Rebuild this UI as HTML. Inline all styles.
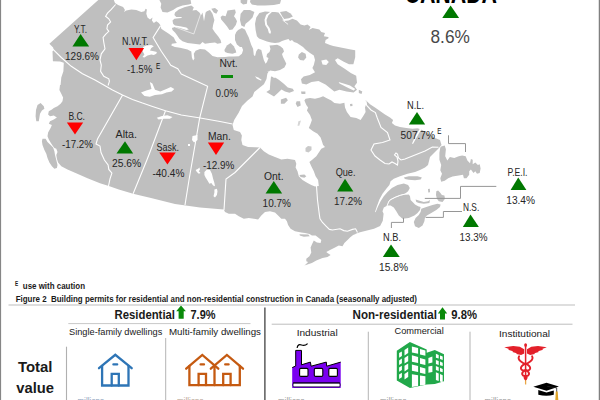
<!DOCTYPE html>
<html><head><meta charset="utf-8"><title>Building permits</title>
<style>
html,body{margin:0;padding:0;background:#fff}
body{width:600px;height:400px;overflow:hidden;position:relative;font-family:"Liberation Sans",sans-serif}
svg{position:absolute;left:0;top:0;display:block}
text{font-family:"Liberation Sans",sans-serif}
</style></head><body>
<svg width="600" height="400" viewBox="0 0 600 400">
<rect x="0" y="0" width="600" height="400" fill="#fff"/>
<g id="land">
<polygon points="99.4,-1 113.8,-1 113.8,0 115,3.1 118.1,5 123.1,6.9 125,10 123.8,11.9 126.3,10.6 131.3,9.4 136.3,10 141.3,11.9 144.4,11.3 145.6,8.8 146.9,9.4 146.3,13.8 147.5,17.5 150,19.4 152.5,17.5 151.9,20.6 153.8,23.1 156.3,21.3 158.8,23.1 160.6,25.6 161.3,28.8 163.8,30.6 168.8,33.8 173.8,37.5 175.6,41.3 176.9,43.1 171.9,43.8 171.3,45.6 175,46.9 180,47.7 187.5,49.6 191.3,51.5 191.9,57.5 193.1,60.6 194.4,58.8 193.8,53.8 195.6,50.8 200,49 205,49.6 208.8,52.5 212.5,56.1 217.5,57.3 225,56.9 229,56.4 233.8,56.5 238.8,56.3 241.9,53.8 243.1,50 241.9,46.9 240,46.9 236.9,44.4 235,40 235,35 236.3,31.9 238.1,30 241.9,28.1 245,29.4 246.9,33.8 248.8,37.5 250,41.3 251.3,45 253.1,48.8 253.8,55 255,56.3 256.3,51.3 258.1,48.8 261.3,50 262.5,55 263.8,60 265.6,63.8 267,62 268.5,58 266.5,57 267,54 269.5,52 270.5,49 269.5,45.6 273,45.2 277,44.7 280,46 283,48.5 284,51.5 282,54 283,57 285,61 286.3,63.8 284.4,67.5 280,70 275,71.3 270,70.6 267.4,73.6 266.5,78.9 263.9,84.2 259.5,87.7 254.3,92 252.5,96.4 247.3,100.8 242,106 238.5,113 234.2,120 232.5,125 233.8,130 240,131.9 241.9,135.6 241.3,140 242.5,145 248.1,146.9 255,147.3 260,147.5 263.8,151.3 268.8,154.4 275,156.9 281.3,159.4 287.5,158.8 295,160 296.3,163.8 295.6,167.5 297.5,171.3 298.8,176.3 302.5,180 307.5,183.1 311.3,185 315,186.6 318.8,186 318.1,180 315.6,176.3 313.8,171.3 311.3,166.3 309.4,161.9 312.5,159.4 316.3,156.3 318.8,152.5 321.3,148.8 325,146.9 323.1,145 321.9,141.3 320.6,137.5 317.5,133.8 313.1,131.3 308.8,128.1 310.6,123.8 311.9,120 310,115 306.9,110.6 308.1,107.5 306.3,105 304.4,100.6 305.6,98.8 310,98.1 315,98.8 320,97.5 323.1,96.3 326.3,98.1 331.3,100.6 334.4,103.1 340,103.8 344.4,102.8 345,107.5 346.9,111.9 350.6,116.9 356.3,118.1 360.6,120 363.1,116.3 365.6,111.9 365,107.5 366.3,103.8 365.6,100 370,104.2 375,107.5 380,111.1 385,114.4 390,117.6 393.1,120 391.9,123.1 395,125.6 400,126.9 406.3,128.1 412.5,128.8 417.5,128.3 421.3,129.4 428,133.5 435,138 440,140 441.5,145 438,149 434,153 430,157 429,161 428,165 425,167.5 420,170 415,171.9 407.5,173.8 400,176.3 393.8,178.8 390.6,181.3 389.4,185 386.3,188.8 382.5,193.8 379.4,199.4 376.9,206.3 375,211.9 375.6,212.2 378.1,206.3 380.6,201.3 383.8,196.3 387.5,191.9 391.9,188.1 397.5,185 403.8,183.5 408.1,185 409.8,188.1 408.1,191.3 405,193.8 400,195 395,196.9 390,199.4 388.1,201.9 387.5,205.6 383.8,207.5 382.5,211.3 383.6,213.8 382.8,220.8 380.1,226 374,228.7 367,230.4 360,232.2 355,234 356.3,233.8 353.1,235 350,237.5 347.5,240 344.4,243.1 342.5,246.3 338.8,245.6 335,247.5 330,250 326.3,251.9 327.5,253.1 330.6,255 327.5,256.9 322.5,258.1 316.3,260.6 311.9,263.1 304.4,265.5 305.6,264.4 308.1,261.9 306.3,261.3 306.3,258.8 309.4,256.3 311.3,252.5 310.6,247.5 311.9,244.4 313.8,240.6 316.9,242.5 320.6,243.1 321.3,240 318.8,238.1 315.6,235.6 311.9,235.6 309.5,234 305,232.9 301.3,232.5 295,231.3 290.6,228.8 288.1,225 286.9,221.3 285,218.8 281.3,218.8 278.1,215.6 275,212.5 270,211.3 265,211.9 261.3,215.6 258.1,219.4 253.8,218.8 248.8,218.1 243.8,218.8 238.8,216.3 235,213.8 228.8,213.8 225,211.9 223.8,209.4 200,207.5 175,204 150,197.8 142.5,196 133.1,193.8 118.8,189.6 108.8,185.9 100,183.3 87.5,178.3 75,172.7 67.5,169.5 61.3,166.3 58.1,162.5 56.9,158.8 56.3,155 57.5,151.9 56.3,148.8 54.4,148.1 52.5,145.6 50.6,142.5 48.8,139.4 47.5,136.3 48.1,132.5 48.8,131.3 50.6,128.1 51.9,125 48.8,123.8 50,121.3 53.8,119.4 56.9,117.5 53.8,115.6 50,116.3 48.1,114.4 48.8,111.3 51.9,109.4 53.8,108.1 57.5,106.3 60.6,103.8 62.5,101.3 63.1,97.5 61.3,93.8 59.4,90 60,85 60.6,85 61.3,77.5 63.4,71.3 63.8,62.8 60,61.5 52.9,61.3 52.5,51.3 53.8,50 53.1,47.5 49.4,43.8" fill="#bfbfbf" />
<polygon points="159.4,-1 159.4,0 161.3,3.75 160.6,7.5 162.5,11.9 167.5,12.5 173.1,10 176.9,7.5 182.5,5.6 188.8,4.4 191.3,3.75 190.6,0 190.6,-1" fill="#bfbfbf" />
<polygon points="175,12.5 178.8,9.4 185,6.9 191.3,5.6 193.8,7.5 192.5,10.6 196.3,10 199.4,12.5 201.3,15 202.5,12.5 204,21.3 205.6,12.5 206.9,11.3 210,10 212.5,13.8 214.4,20 213.1,25 212.5,28.8 215,32.5 218.1,36.3 220.6,40 221.3,43.1 217.5,43.8 215,42.5 210,43.1 205,43.8 202.5,41.9 200,44.4 193.8,43.8 187.5,43.1 182.5,41.3 179.4,38.8 176.9,35 175,32.5 172.5,30 171.9,28.1 175,26.9 180,28.1 186.3,30 188.8,29.4 186.3,27.5 180,26.3 175,25.6 173.1,23.8 172.5,20.6 174.4,18.8 181.3,18.1 181.9,16.9 176.3,16.9 174.4,15" fill="#bfbfbf" />
<polygon points="211.3,8.8 215,8.1 218.1,10.6 216.3,13.8 213.8,12.5" fill="#bfbfbf" />
<polygon points="240.6,-1 247.5,-1 246.9,3.8 243.1,4.4 240.6,2.5" fill="#bfbfbf" />
<polygon points="250.6,-1 281.3,-1 280,3.8 273.8,5 265,5.6 257.5,5.6 251.9,4.4 250,1.9" fill="#bfbfbf" />
<polygon points="220.6,16.9 222.5,15.6 225.6,16.2 226.9,12.5 227.5,10.6 231.2,10.0 235.0,9.4 235.8,12.5 234.0,16.2 235.8,18.8 237.0,21.2 235.8,25.0 232.5,29.4 229.4,30.0 226.9,26.2 223.8,22.5 221.2,19.4" fill="#bfbfbf" />
<polygon points="240.6,13.8 243.8,10 250,10 254.4,11.9 252.5,17.5 248.8,21.3 245.6,23.8 244.4,26.9 241.3,25.6 240,20" fill="#bfbfbf" />
<polygon points="224.4,50 226.9,45.6 230.6,43.1 233.8,46.3 235.6,50 236.3,52.5 232.5,53.8 227.5,53.1 225,51.9" fill="#bfbfbf" />
<polygon points="271.3,11.9 265,11.5 259.4,13.1 256.3,17.5 255,23.8 255.6,30 256.9,36.3 259,38.5 263,40 267,41.5 271,42.5 275,43 279,42.5 282,41 285,40 288.5,39 290,41 292,40 294,42 297,43 300,45 303,47 306,50 310,53 313.8,55.6 315,60 313.8,65 312.4,67.9 315,72.3 309.8,74.9 303.6,76.6 301,79.3 301.9,83.6 306.3,84.5 311.5,81.9 318.5,81 325.5,84.5 329.9,88 334.3,91.5 339.5,89.8 346.5,91.5 353.6,92.4 357,89.8 354.4,86.3 357,82.8 356.2,75.8 350.8,73 344.7,68.7 337.7,64.3 335,59.9 337.7,58.2 343.8,61.7 349,64.3 353.4,64.3 355.2,57.3 355.2,50.3 350.8,49.4 342,47.7 333.3,45.9 330,45 325,43.1 325.6,40 328.8,38.1 328.1,36.9 323.8,36.3 325,33.1 321.3,31.9 319.4,29.4 312.5,28.1 308.8,30 310.6,26.9 307.5,24.4 304.4,25.6 300.6,24.4 296.9,20.5 292.5,18.8 288.5,20.5 284,21 281.8,17 278.5,12.5 275,11.9" fill="#bfbfbf" />
<polygon points="280.0,11.9 286.2,11.0 290.6,13.5 292.9,16.6 289.0,18.2 284.2,18.9 282.2,16.2" fill="#bfbfbf" />
<polygon points="298.8,54.4 301.9,51.9 305.6,53.8 306.3,57.5 303.8,60.6 300,60 298.1,57.5" fill="#bfbfbf" />
<polygon points="266.3,91.9 269.8,89.8 270.3,82.5 271,76.5 274.8,77.3 278.8,79.8 283.8,83.8 287.8,87.5 292.8,88.8 294,91 289.4,92.8 285,91.5 281.5,89.5 278.1,92.8 274,96.5 270.6,94.4" fill="#bfbfbf" />
<polygon points="280.9,99.4 286.1,97.7 287.9,100.3 284.4,103.8 280.9,103.8" fill="#bfbfbf" />
<polygon points="296.6,101.2 300.1,101.2 300.7,105.5 297.5,106.9 295.8,103.8" fill="#bfbfbf" />
<polygon points="301,91.5 305.4,91.5 305.4,94 301.5,94" fill="#bfbfbf" />
<polygon points="298.4,121.3 301,120.4 299.3,125.7 297.5,125.7" fill="#d6d6d6" />
<polygon points="358.8,89.8 362.3,91.5 361.5,94 358.8,93" fill="#bfbfbf" />
<polygon points="350,104 352.3,103.8 352.5,106 350.3,106.3" fill="#bfbfbf" />
<polygon points="299.4,175 304.4,174.6 306.3,176.3 304.4,177.7 300.6,177" fill="#bfbfbf" />
<polygon points="305.5,148 308,146 311.5,146.5 311.5,150 308.5,152.5 305.5,151.5" fill="#c9c9c9" />
<polygon points="299.5,234.2 308.3,234.6 309.8,236.2 303.8,236.7 299.8,235.6" fill="#bfbfbf" />
<polygon points="37.5,105 40.6,103.1 43.8,106.3 44.4,108.8 41.9,110.6 40,113.8 39.4,117.5 38.8,121.3 36.3,121.3 35.6,116.3 36,110" fill="#bfbfbf" />
<polygon points="42.5,138.8 45.6,138.8 47.5,141.9 50.6,145 53.1,147.5 54.4,151.3 55,155 56.3,160 57.5,165 56.9,168.1 54.4,168.8 51.9,166.3 49.4,162.5 47.5,158.1 46.3,153.8 44.4,150 42.5,145 41.9,141.3" fill="#bfbfbf" />
<polygon points="387.5,205.6 388.8,201.9 390.6,200 395.6,197.5 400.6,195.6 405,194.4 408.8,194.4 410,196.3 410.6,200 413.1,202.5 415,204.4 418.1,206.3 420.6,206.9 420,210 417.5,213.1 414.4,215.6 408.8,218.1 402.5,218.8 398.8,215.6 396.3,211.3 393.8,207.5 390.6,205.6" fill="#bfbfbf" />
<polygon points="421.3,208.8 426.3,206.9 432.5,205 437.5,203.8 440.6,204.4 440,206.9 436.3,210 431.3,213.1 426.9,215.6 425,217.5 424.4,221.3 422.5,225.6 418.8,228.1 415,226.3 413.8,221.9 415.6,218.1 418.8,215 420.6,211.9" fill="#bfbfbf" />
<polygon points="436.3,191.3 438.1,190.6 440,192.5 441.9,195 444.4,195.6 445,198.8 442.5,201.9 438.8,201.3 436.9,198.8 436,195" fill="#bfbfbf" />
<polygon points="415.6,199.4 418.8,200.6 423.8,201.9 428.1,201.3 430,200 429.4,203.1 423.8,203.8 418.8,203.1 416.3,201.9" fill="#bfbfbf" />
<polygon points="403.8,177.5 408.8,176.3 417.5,176.3 421.9,177.5 420.6,179.4 415,180.3 408.8,179.8 405,179" fill="#bfbfbf" />
<polygon points="428,189 429.8,188.8 430,192.3 428.3,192.5" fill="#bfbfbf" />
<polygon points="441.2,146.6 444.7,145.4 445.9,149.3 445.2,156.3 447.3,160.6 449.9,157.1 454.3,158 458.7,156.3 462.2,155.4 465.7,156.3 467.4,160.6 470,163.3 470.9,158.9 472.7,159.8 472.7,164.2 475.3,162.4 477.9,165 479.7,164.2 480.6,168.5 479.7,172.9 477,173.8 475.3,171.2 473.5,172.9 470.9,169.4 469.2,171.2 469.2,174.7 466.5,178.2 463.9,178.2 463,174.7 458.7,175.5 452.5,176.4 448.2,178.2 444.7,180.8 441.2,181.7 440.3,178.2 442,173.8 440.3,170.3 441.2,165 439.4,159.8 439.4,152.8 440.3,147.5" fill="#bfbfbf" />
</g><g id="water">
<polygon points="338.7,81.9 350,85.4 355.3,88.9 353.6,90.6 348.3,88 339.5,83.6" fill="#fff" />
<polygon points="271.9,11.9 268.5,15.2 266.5,20.0 267.1,24.4 269.6,28.1 271.0,31.9 270.2,34.0 268.8,32.8 267.8,29.0 265.2,25.0 264.5,19.8 266.2,14.8 270.0,11.9" fill="#fff" />
<polygon points="321.3,60.6 326.3,59.4 328.8,61.9 326.3,65 322.5,64.4" fill="#fff" />
<polygon points="143.1,46.9 146.3,45.6 151.3,45 153.8,46.3 151.3,48.1 150,50.6 153.8,51.3 156.9,51.9 156.3,53.8 153.8,55 151.3,54.4 147.5,55.6 144.4,57.5 142.5,56.9 144.4,54.4 142.5,51" fill="#fff" />
<polygon points="141,92.4 146.3,90.6 151.5,88.9 149.8,81.9 152.4,83.6 155,89.8 160.3,91.5 166.4,88.9 170.8,87.1 174.3,88.9 171.7,91.5 166.4,92.4 162,94.2 155,95 149.8,96.8 144.5,95.9" fill="#fff" />
<polygon points="156.8,117.8 162,116 167.3,115.2 172.5,116.9 169.9,118.7 163.8,118.7 158.5,119.5" fill="#fff" />
<polygon points="192.5,136 197.5,135 197.5,140 194,142.5 192,140" fill="#fff" />
<polygon points="188,144 190,144 190,146 188,146" fill="#fff" />
<polygon points="195.6,170 198.1,168.8 199.4,167.5 200,169.4 198.8,171.3 200.6,173.1 198.8,173.8 196.9,171.9" fill="#fff" />
<polygon points="204.4,171.9 206.9,169.4 210,170 211.9,173.8 213.1,178.8 214.4,183.1 215,186.3 213.1,185.6 211.3,183.1 209.4,183.8 207.5,180.6 205.6,177.5 204.4,175" fill="#fff" />
<polygon points="214.4,189.4 216.9,188.8 217.5,191.3 216.9,195 215,197.5 213.5,196.3 214.4,192.5" fill="#fff" />
<polygon points="255,76.3 258.1,77.5 261.9,80 260.6,80.6 256.9,78.8" fill="#fff" />
<polygon points="267.5,71.3 270.6,71.9 273.8,73.8 277.5,75 280,75.6 278.8,77.5 276.3,76.9 273.8,78.1 272.5,76.3 270,75 268.8,80 266.9,85 266,84 268,76 268.8,73.1" fill="#fff" />
<polygon points="421.8,129 419,133.2 415.2,140 413,144 412,143.5 413.8,139.5 417.2,133 420,128.6" fill="#fff" />
</g><g id="borders">
<polyline points="282.5,20.0 288.1,24.4" fill="none" stroke="#fff" stroke-width="0.8" stroke-linejoin="miter" />
<polyline points="53.1,49.4 61.3,57.5 71.3,66.3 82.5,73.8 95,80 103.8,85 112.5,90 122.5,95 132.5,99.4 142.5,103.1 152.5,106.5 165.5,110.8 181.3,115 198.8,117.8 220,121.5 232.5,124" fill="none" stroke="#fff" stroke-width="1.1" stroke-linejoin="miter" />
<polyline points="115.6,4.5 111.3,9.4 107.5,13.1 105.6,16.3 108.8,18.8 110.6,21.9 107.5,25 106.9,28.8 108.8,31.3 105.6,34.4 103.1,37.5 103.8,42.5 105,48.8 101.3,53.8 100,60 101.3,65 100.6,71.3 103.8,76.3 108.8,78.8 109.4,81.3 108.1,85.5" fill="none" stroke="#fff" stroke-width="1.1" stroke-linejoin="miter" />
<polyline points="160.6,25.6 153.1,37.5 161.3,51.3 167.3,60 170.8,65.3 177.8,68.8 181.3,74 207.6,86.3 199.7,117.8" fill="none" stroke="#fff" stroke-width="1.1" stroke-linejoin="miter" />
<polyline points="201.3,12 193.8,34 175,27" fill="none" stroke="#fff" stroke-width="0.6" stroke-linejoin="miter" />
<polyline points="122.6,95 97.5,139 96,144 100,146 101,152.5 104.4,160 108.1,165 108.8,169.4 111.9,173.1 110,178.8 108.5,186" fill="none" stroke="#fff" stroke-width="1.1" stroke-linejoin="miter" />
<polyline points="165.5,110.8 150,152 146.9,160 133.1,193.8" fill="none" stroke="#fff" stroke-width="1.1" stroke-linejoin="miter" />
<polyline points="199.7,117.8 189,180 185,205" fill="none" stroke="#fff" stroke-width="1.1" stroke-linejoin="miter" />
<polyline points="260,147.5 255,152.5 235,172.5 226,179 224,210" fill="none" stroke="#fff" stroke-width="1.1" stroke-linejoin="miter" />
<polyline points="316.5,186 317.5,200 319.4,215 320,218.8 322.5,222.5 326.3,226.3 329.4,229.4 332.5,230 340,228.8 343.8,230.6 347.5,231.3 352.5,229.4 355.6,228.8 357.5,232.5" fill="none" stroke="#fff" stroke-width="1.1" stroke-linejoin="miter" />
<polyline points="365.8,100.3 366.7,105.5 371,110 375.4,112.5 377.2,117.8 381,127.5 387.5,132.5 390,140 382.5,142.5 374,144 371,150 375,156 380,160 385,163.5 389,164 392,162 395,163.5 397.5,165 398,161 397,157 394.5,155 396,153 397.5,154 398.5,158 401,160 405,159 410,157 415,155 420,153 425,151 432.4,147 438.5,147.3" fill="none" stroke="#fff" stroke-width="1.1" stroke-linejoin="miter" />
<polyline points="387,206 388.5,202 390.3,199.8 395.3,197.2 400.3,195.3 405,194.1 409,193.6" fill="none" stroke="#fff" stroke-width="0.9" stroke-linejoin="miter" />
<polyline points="448.5,135.3 448.5,143.6 465.5,143.6 465.5,152" fill="none" stroke="#969696" stroke-width="1" stroke-linejoin="miter" />
<polyline points="496.3,186.4 460.5,186.4 460.5,198.4 424.8,198.4" fill="none" stroke="#969696" stroke-width="1" stroke-linejoin="miter" />
<polyline points="462,211.5 443.4,211.5 443.4,217.4 425.6,217.4" fill="none" stroke="#969696" stroke-width="1" stroke-linejoin="miter" />
<polyline points="391.4,228 391.4,222.4 403.5,222.4 403.5,217.8" fill="none" stroke="#969696" stroke-width="1" stroke-linejoin="miter" />
</g>
<g id="labels">
<text x="73.9" y="33.0" font-size="10.4" font-weight="normal" fill="#262626" textLength="13.1" lengthAdjust="spacingAndGlyphs">Y.T.</text>
<polygon points="80.6,33.95 89.15,46.4 72.45,46.4" fill="#007800"/>
<text x="65" y="59.8" font-size="10.7" font-weight="normal" fill="#262626" textLength="34" lengthAdjust="spacingAndGlyphs">129.6%</text>
<text x="122" y="45.3" font-size="10.4" font-weight="normal" fill="#262626" textLength="26.6" lengthAdjust="spacingAndGlyphs">N.W.T.</text>
<polygon points="128.45,48 144.15,48 136.4,60.15" fill="#ff0000"/>
<text x="127" y="72.7" font-size="10.7" font-weight="normal" fill="#262626" textLength="25.4" lengthAdjust="spacingAndGlyphs">-1.5%</text>
<text x="155.9" y="69" font-size="9.4" font-weight="normal" fill="#111" textLength="4.3" lengthAdjust="spacingAndGlyphs">E</text>
<text x="68.4" y="119.5" font-size="10.4" font-weight="normal" fill="#262626" textLength="16.6" lengthAdjust="spacingAndGlyphs">B.C.</text>
<polygon points="66.85,122.4 83.15,122.4 75,134.55" fill="#ff0000"/>
<text x="62" y="147.9" font-size="10.7" font-weight="normal" fill="#262626" textLength="31" lengthAdjust="spacingAndGlyphs">-17.2%</text>
<text x="115.6" y="138.3" font-size="10.4" font-weight="normal" fill="#262626" textLength="21.4" lengthAdjust="spacingAndGlyphs">Alta.</text>
<polygon points="125,141.15 133.15,153.6 116.45,153.6" fill="#007800"/>
<text x="112" y="166.7" font-size="10.7" font-weight="normal" fill="#262626" textLength="29.2" lengthAdjust="spacingAndGlyphs">25.6%</text>
<text x="156.6" y="150.5" font-size="10.4" font-weight="normal" fill="#262626" textLength="22.4" lengthAdjust="spacingAndGlyphs">Sask.</text>
<polygon points="159.25,152.4 175.75,152.4 167.4,164.55" fill="#ff0000"/>
<text x="152.4" y="177.3" font-size="10.7" font-weight="normal" fill="#262626" textLength="32.0" lengthAdjust="spacingAndGlyphs">-40.4%</text>
<text x="208" y="139.7" font-size="10.4" font-weight="normal" fill="#262626" textLength="23" lengthAdjust="spacingAndGlyphs">Man.</text>
<polygon points="207.85,142.4 224.15,142.4 216,154.95" fill="#ff0000"/>
<text x="203" y="169.1" font-size="10.7" font-weight="normal" fill="#262626" textLength="31.4" lengthAdjust="spacingAndGlyphs">-12.9%</text>
<text x="219.4" y="66.5" font-size="10.4" font-weight="normal" fill="#262626" textLength="18.2" lengthAdjust="spacingAndGlyphs">Nvt.</text>
<rect x="221" y="75" width="12" height="3" fill="#0a8a0a"/>
<text x="215.6" y="97.1" font-size="10.7" font-weight="normal" fill="#262626" textLength="22.4" lengthAdjust="spacingAndGlyphs">0.0%</text>
<text x="264" y="179.9" font-size="10.4" font-weight="normal" fill="#262626" textLength="19.6" lengthAdjust="spacingAndGlyphs">Ont.</text>
<polygon points="273.8,181.05 282.15,193.6 265.55,193.6" fill="#007800"/>
<text x="262.6" y="207.2" font-size="10.7" font-weight="normal" fill="#262626" textLength="28.3" lengthAdjust="spacingAndGlyphs">10.7%</text>
<text x="335.7" y="175.7" font-size="10.4" font-weight="normal" fill="#262626" textLength="19.8" lengthAdjust="spacingAndGlyphs">Que.</text>
<polygon points="345,178.75 353.35,191.5 337.15,191.5" fill="#007800"/>
<text x="334" y="204.7" font-size="10.7" font-weight="normal" fill="#262626" textLength="28" lengthAdjust="spacingAndGlyphs">17.2%</text>
<text x="407" y="109.3" font-size="10.4" font-weight="normal" fill="#262626" textLength="17" lengthAdjust="spacingAndGlyphs">N.L.</text>
<polygon points="417,111.95 425.15,124.4 408.85,124.4" fill="#007800"/>
<text x="400.6" y="139.1" font-size="10.7" font-weight="normal" fill="#262626" textLength="34.4" lengthAdjust="spacingAndGlyphs">507.7%</text>
<text x="437.3" y="133.8" font-size="9.4" font-weight="normal" fill="#111" textLength="4.2" lengthAdjust="spacingAndGlyphs">E</text>
<text x="507.5" y="175.7" font-size="10.4" font-weight="normal" fill="#262626" textLength="20.0" lengthAdjust="spacingAndGlyphs">P.E.I.</text>
<polygon points="518.25,177.55 526.4,190 510.6,190" fill="#007800"/>
<text x="506.25" y="203.7" font-size="10.7" font-weight="normal" fill="#262626" textLength="28.8" lengthAdjust="spacingAndGlyphs">13.4%</text>
<text x="463" y="211.45" font-size="10.4" font-weight="normal" fill="#262626" textLength="16.2" lengthAdjust="spacingAndGlyphs">N.S.</text>
<polygon points="470.5,214.55 478.9,227 462.85,227" fill="#007800"/>
<text x="459.5" y="240.7" font-size="10.7" font-weight="normal" fill="#262626" textLength="28.0" lengthAdjust="spacingAndGlyphs">13.3%</text>
<text x="383" y="241.3" font-size="10.4" font-weight="normal" fill="#262626" textLength="18" lengthAdjust="spacingAndGlyphs">N.B.</text>
<polygon points="391,244.55 399.75,257 382.85,257" fill="#007800"/>
<text x="379" y="270.7" font-size="10.7" font-weight="normal" fill="#262626" textLength="29" lengthAdjust="spacingAndGlyphs">15.8%</text>
<text x="404.5" y="3.2" font-size="30" font-weight="bold" fill="#000" textLength="92.5" lengthAdjust="spacingAndGlyphs">CANADA</text>
<polygon points="450.6,5.55 459.15,18 442.25,18" fill="#007800"/>
<text x="430.5" y="42.8" font-size="17.5" font-weight="normal" fill="#484848" textLength="39.3" lengthAdjust="spacingAndGlyphs">8.6%</text>
</g>
<g id="bottom">
<rect x="0" y="0" width="1.1" height="400" fill="#868686"/>
<rect x="598.75" y="0" width="1.25" height="400" fill="#808080"/>
<text x="15" y="286.2" font-size="7.2" font-weight="bold" fill="#1a1a1a" textLength="3.2" lengthAdjust="spacingAndGlyphs" >E</text>
<text x="22.8" y="288.6" font-size="9.3" font-weight="bold" fill="#1a1a1a" textLength="62.2" lengthAdjust="spacingAndGlyphs" >use with caution</text>
<text x="15.7" y="302.2" font-size="9.3" font-weight="bold" fill="#1a1a1a" textLength="401.3" lengthAdjust="spacingAndGlyphs" xml:space="preserve">Figure 2&#160; Building permits for residential and non-residential construction in Canada (seasonally adjusted)</text>
<line x1="8.5" y1="305" x2="575" y2="305" stroke="#bdbdbd" stroke-width="1"/>
<text x="114.5" y="319.4" font-size="12" font-weight="bold" fill="#1a1a1a" textLength="60.5" lengthAdjust="spacingAndGlyphs" >Residential</text>
<polygon points="181,305.5 185.9,311.3 183.7,311.3 183.7,318.7 178.6,318.7 178.6,311.3 176.2,311.3" fill="#0a8a0a"/>
<text x="190.5" y="319.4" font-size="12" font-weight="bold" fill="#1a1a1a" textLength="25.0" lengthAdjust="spacingAndGlyphs" >7.9%</text>
<line x1="68.3" y1="323.6" x2="250.5" y2="323.6" stroke="#c8c8c8" stroke-width="1"/>
<text x="352.5" y="319.4" font-size="12" font-weight="bold" fill="#1a1a1a" textLength="84.5" lengthAdjust="spacingAndGlyphs" >Non-residential</text>
<polygon points="442.5,307.3 447.2,313.6 445,313.6 445,319.5 440,319.5 440,313.6 437.8,313.6" fill="#0a8a0a"/>
<text x="451.3" y="319.4" font-size="12" font-weight="bold" fill="#1a1a1a" textLength="25.7" lengthAdjust="spacingAndGlyphs" >9.8%</text>
<line x1="271.7" y1="324.2" x2="572.5" y2="324.2" stroke="#bdbdbd" stroke-width="1"/>
<text x="69" y="335" font-size="9" font-weight="normal" fill="#1a1a1a" textLength="93.3" lengthAdjust="spacingAndGlyphs" >Single-family dwellings</text>
<text x="169" y="335" font-size="9" font-weight="normal" fill="#1a1a1a" textLength="92" lengthAdjust="spacingAndGlyphs" >Multi-family dwellings</text>
<text x="296.7" y="336" font-size="9" font-weight="normal" fill="#1a1a1a" textLength="41.0" lengthAdjust="spacingAndGlyphs" >Industrial</text>
<text x="394.5" y="334.4" font-size="9.3" font-weight="normal" fill="#1a1a1a" textLength="49.3" lengthAdjust="spacingAndGlyphs" >Commercial</text>
<text x="499" y="336.5" font-size="9" font-weight="normal" fill="#1a1a1a" textLength="51" lengthAdjust="spacingAndGlyphs" >Institutional</text>
<line x1="66.5" y1="346.7" x2="66.5" y2="400" stroke="#b0b0b0" stroke-width="1.1"/>
<line x1="165.7" y1="338" x2="165.7" y2="400" stroke="#b4b4b4" stroke-width="1"/>
<line x1="264.9" y1="307.5" x2="264.9" y2="400" stroke="#404040" stroke-width="1.3"/>
<line x1="368.3" y1="331.7" x2="368.3" y2="400" stroke="#b4b4b4" stroke-width="1"/>
<line x1="470" y1="331.7" x2="470" y2="400" stroke="#b4b4b4" stroke-width="1"/>
<text x="18" y="372.2" font-size="15.2" font-weight="bold" fill="#1a1a1a" textLength="34.5" lengthAdjust="spacingAndGlyphs" >Total</text>
<text x="16.2" y="393.2" font-size="15.2" font-weight="bold" fill="#1a1a1a" textLength="37.8" lengthAdjust="spacingAndGlyphs" >value</text>
<g fill="none" stroke="#2e75b6" stroke-width="2.3" stroke-linecap="round" stroke-linejoin="miter"><polyline points="99,368.2 115.3,354.8 131.7,368.2"/><polyline points="102.1,366 102.1,385.5 128.5,385.5 128.5,366"/><polyline points="111.7,385.5 111.7,373.9 118.8,373.9 118.8,385.5"/><line x1="113.4" y1="364.4" x2="117.2" y2="364.4"/></g>
<g fill="none" stroke="#c55a11" stroke-width="2.3" stroke-linecap="round" stroke-linejoin="miter"><polyline points="186.2,368.7 202.3,354.9 218.3,368.7"/><polyline points="210.8,368.7 226.9,354.9 243,368.7"/><polyline points="189.4,366 189.4,385.2 239.8,385.2 239.8,366"/><line x1="214.5" y1="365.5" x2="214.5" y2="385.2"/><polyline points="198.6,385.2 198.6,373.9 206,373.9 206,385.2"/><polyline points="223.2,385.2 223.2,373.9 230.6,373.9 230.6,385.2"/><line x1="200.6" y1="364.4" x2="204" y2="364.4"/><line x1="225.2" y1="364.4" x2="228.6" y2="364.4"/></g>
<polygon points="292.2,382.9 292.2,367.6 295.7,366 295.7,350.4 301.5,350.4 301.5,364.8 310.4,362.1 311.1,366.2 326.3,362.1 326.7,366.2 340.7,362.1 340.7,388 292.2,388" fill="#7a00f0"/>
<polyline points="292.2,367.6 295.7,366 295.7,350.4 301.5,350.4 301.5,364.8 310.4,362.1 311.1,366.2 326.3,362.1 326.7,366.2 340.7,362.1" fill="none" stroke="#000" stroke-width="1.0"/>
<rect x="299.6" y="368.4" width="8.4" height="8" rx="1.2" fill="#fff" stroke="#000" stroke-width="1.1"/>
<rect x="314.3" y="368.4" width="8.5" height="8" rx="1.2" fill="#fff" stroke="#000" stroke-width="1.1"/>
<rect x="328.8" y="368.4" width="8.6" height="8" rx="1.2" fill="#fff" stroke="#000" stroke-width="1.1"/>
<rect x="293" y="383" width="47" height="3.9" rx="1" fill="#fff" stroke="#1a0040" stroke-width="0.9"/>
<line x1="293" y1="382.9" x2="340" y2="382.9" stroke="#000" stroke-width="0.9"/>
<path d="M297.1,347.8 C297.8,344.6 299.5,344.2 301.5,345 S305.5,345.6 307.6,343.6" fill="none" stroke="#000" stroke-width="1.3"/>
<polygon points="396.8,350.8 409.9,342.0 426.7,349.5 426.7,352.8 434.8,350.1 444.0,354.2 444.0,381.2 434.8,383.9 426.7,384.6 409.9,387.9 396.8,380.5" fill="#21a84a"/>
<polygon points="399.1,353.1 401.9,351.4 401.9,355.9 399.1,357.7" fill="#fff"/>
<polygon points="399.1,360.4 401.9,358.6 401.9,363.2 399.1,365.0" fill="#fff"/>
<polygon points="399.1,367.4 401.9,365.7 401.9,370.0 399.1,371.7" fill="#fff"/>
<polygon points="399.1,374.4 401.9,372.7 401.9,377.3 399.1,379.0" fill="#fff"/>
<polygon points="404.5,349.9 408.2,347.4 408.2,353.1 404.5,355.5" fill="#fff"/>
<polygon points="404.5,358.0 408.2,355.5 408.2,361.2 404.5,363.6" fill="#fff"/>
<polygon points="404.5,365.8 408.2,363.4 408.2,369.0 404.5,371.5" fill="#fff"/>
<polygon points="404.5,373.9 408.2,371.5 408.2,377.1 404.5,379.6" fill="#fff"/>
<polygon points="411.9,346.4 418.1,348.0 418.1,353.8 411.9,352.6" fill="#fff"/>
<polygon points="420.0,349.1 425.4,350.6 425.4,355.8 420.0,354.6" fill="#fff"/>
<polygon points="411.9,355.3 418.1,356.9 418.1,363.0 411.9,361.8" fill="#fff"/>
<polygon points="420.0,358.0 425.4,359.5 425.4,365.0 420.0,363.8" fill="#fff"/>
<polygon points="411.9,364.5 418.1,366.1 418.1,371.9 411.9,370.7" fill="#fff"/>
<polygon points="420.0,367.1 425.4,368.6 425.4,373.9 420.0,372.7" fill="#fff"/>
<polygon points="411.9,374.2 418.1,375.2 418.1,386.0 411.9,387.1" fill="#fff"/>
<polygon points="420.0,375.5 425.4,376.3 425.4,384.7 420.0,385.5" fill="#fff"/>
<polygon points="428.4,358.0 432.4,356.6 432.4,362.6 428.4,363.6" fill="#fff"/>
<polygon points="428.4,366.6 432.4,365.7 432.4,372.0 428.4,372.8" fill="#fff"/>
<polygon points="435.9,353.7 438.7,354.9 438.7,358.6 435.9,357.7" fill="#fff"/>
<polygon points="440.0,355.4 442.7,356.6 442.7,359.9 440.0,359.1" fill="#fff"/>
<polygon points="435.9,359.9 438.7,361.1 438.7,364.9 435.9,363.9" fill="#fff"/>
<polygon points="440.0,361.6 442.7,362.8 442.7,366.1 440.0,365.3" fill="#fff"/>
<polygon points="435.9,366.1 438.7,367.3 438.7,371.1 435.9,370.1" fill="#fff"/>
<polygon points="440.0,367.8 442.7,369.0 442.7,372.3 440.0,371.5" fill="#fff"/>
<polygon points="435.9,372.3 438.7,373.5 438.7,381.0 435.9,380.1" fill="#fff"/>
<polygon points="440.0,374.0 442.7,375.2 442.7,382.3 440.0,381.5" fill="#fff"/>
<polygon points="524.2,349.2 519.8,346.7 513.2,346.1 504.3,347.3 509.0,349.0 508.1,349.8 513.0,351.2 512.4,352.1 516.7,353.2 516.3,354.0 521.1,354.9 524.2,353.5" fill="#e3202a"/>
<polygon points="527.0,349.2 531.3,346.7 538.0,346.1 546.8,347.3 542.2,349.0 543.1,349.8 538.1,351.2 538.8,352.1 534.4,353.2 534.9,354.0 530.1,354.9 527.0,353.5" fill="#e3202a"/>
<ellipse cx="525.6" cy="345.1" rx="1.4" ry="1.9" fill="#e3202a"/>
<line x1="525.6" y1="344.2" x2="525.6" y2="379.6" stroke="#e3202a" stroke-width="1.5"/>
<line x1="525.6" y1="379.1" x2="525.6" y2="384.5" stroke="#e8a848" stroke-width="1.3"/>
<path d="M532.1,356.3 Q533.6,358.9 530.2,361.6 T525.6,363.6 Q520.6,365.9 520.9,368.4 T525.6,370.2 Q529.6,372.1 529.0,374.3 T525.6,375.8 Q523.4,377.4 525.6,379.2" fill="none" stroke="#e3202a" stroke-width="1.9" stroke-linecap="round"/>
<path d="M519.1,356.3 Q517.5,358.9 520.9,361.6 T525.6,363.6 Q530.5,365.9 530.2,368.4 T525.6,370.2 Q521.6,372.1 522.2,374.3 T525.6,375.8 Q527.8,377.4 525.6,379.2" fill="none" stroke="#e3202a" stroke-width="1.9" stroke-linecap="round"/>
<polygon points="533.3,386.8 546.5,382.7 558.9,386.4 546.5,390.7" fill="#000"/>
<path d="M538.3,390.1 L546.5,392.6 L553.8,390.4 L553.8,394.7 Q546.5,396.6 538.3,394.7 Z" fill="#000"/>
<polyline points="547.3,386.4 556.7,387.9 556.7,392.3" fill="none" stroke="#222" stroke-width="0.8"/>
<polygon points="555.8,391.6 557.7,391.6 558.3,400.0 555.3,400.0" fill="#e0a428"/>
<text x="77.5" y="404.2" font-size="9.5" font-weight="normal" fill="#8ea2bd" textLength="26.5" lengthAdjust="spacingAndGlyphs" >millions</text>
<text x="177" y="404.2" font-size="9.5" font-weight="normal" fill="#b9a595" textLength="26.5" lengthAdjust="spacingAndGlyphs" >millions</text>
<text x="278" y="404.2" font-size="9.5" font-weight="normal" fill="#9a9a9a" textLength="26.5" lengthAdjust="spacingAndGlyphs" >millions</text>
<text x="380" y="404.2" font-size="9.5" font-weight="normal" fill="#9a9a9a" textLength="26.5" lengthAdjust="spacingAndGlyphs" >millions</text>
<text x="484.5" y="404.2" font-size="9.5" font-weight="normal" fill="#9a9a9a" textLength="26.5" lengthAdjust="spacingAndGlyphs" >millions</text>
</g>
</svg>
</body></html>
